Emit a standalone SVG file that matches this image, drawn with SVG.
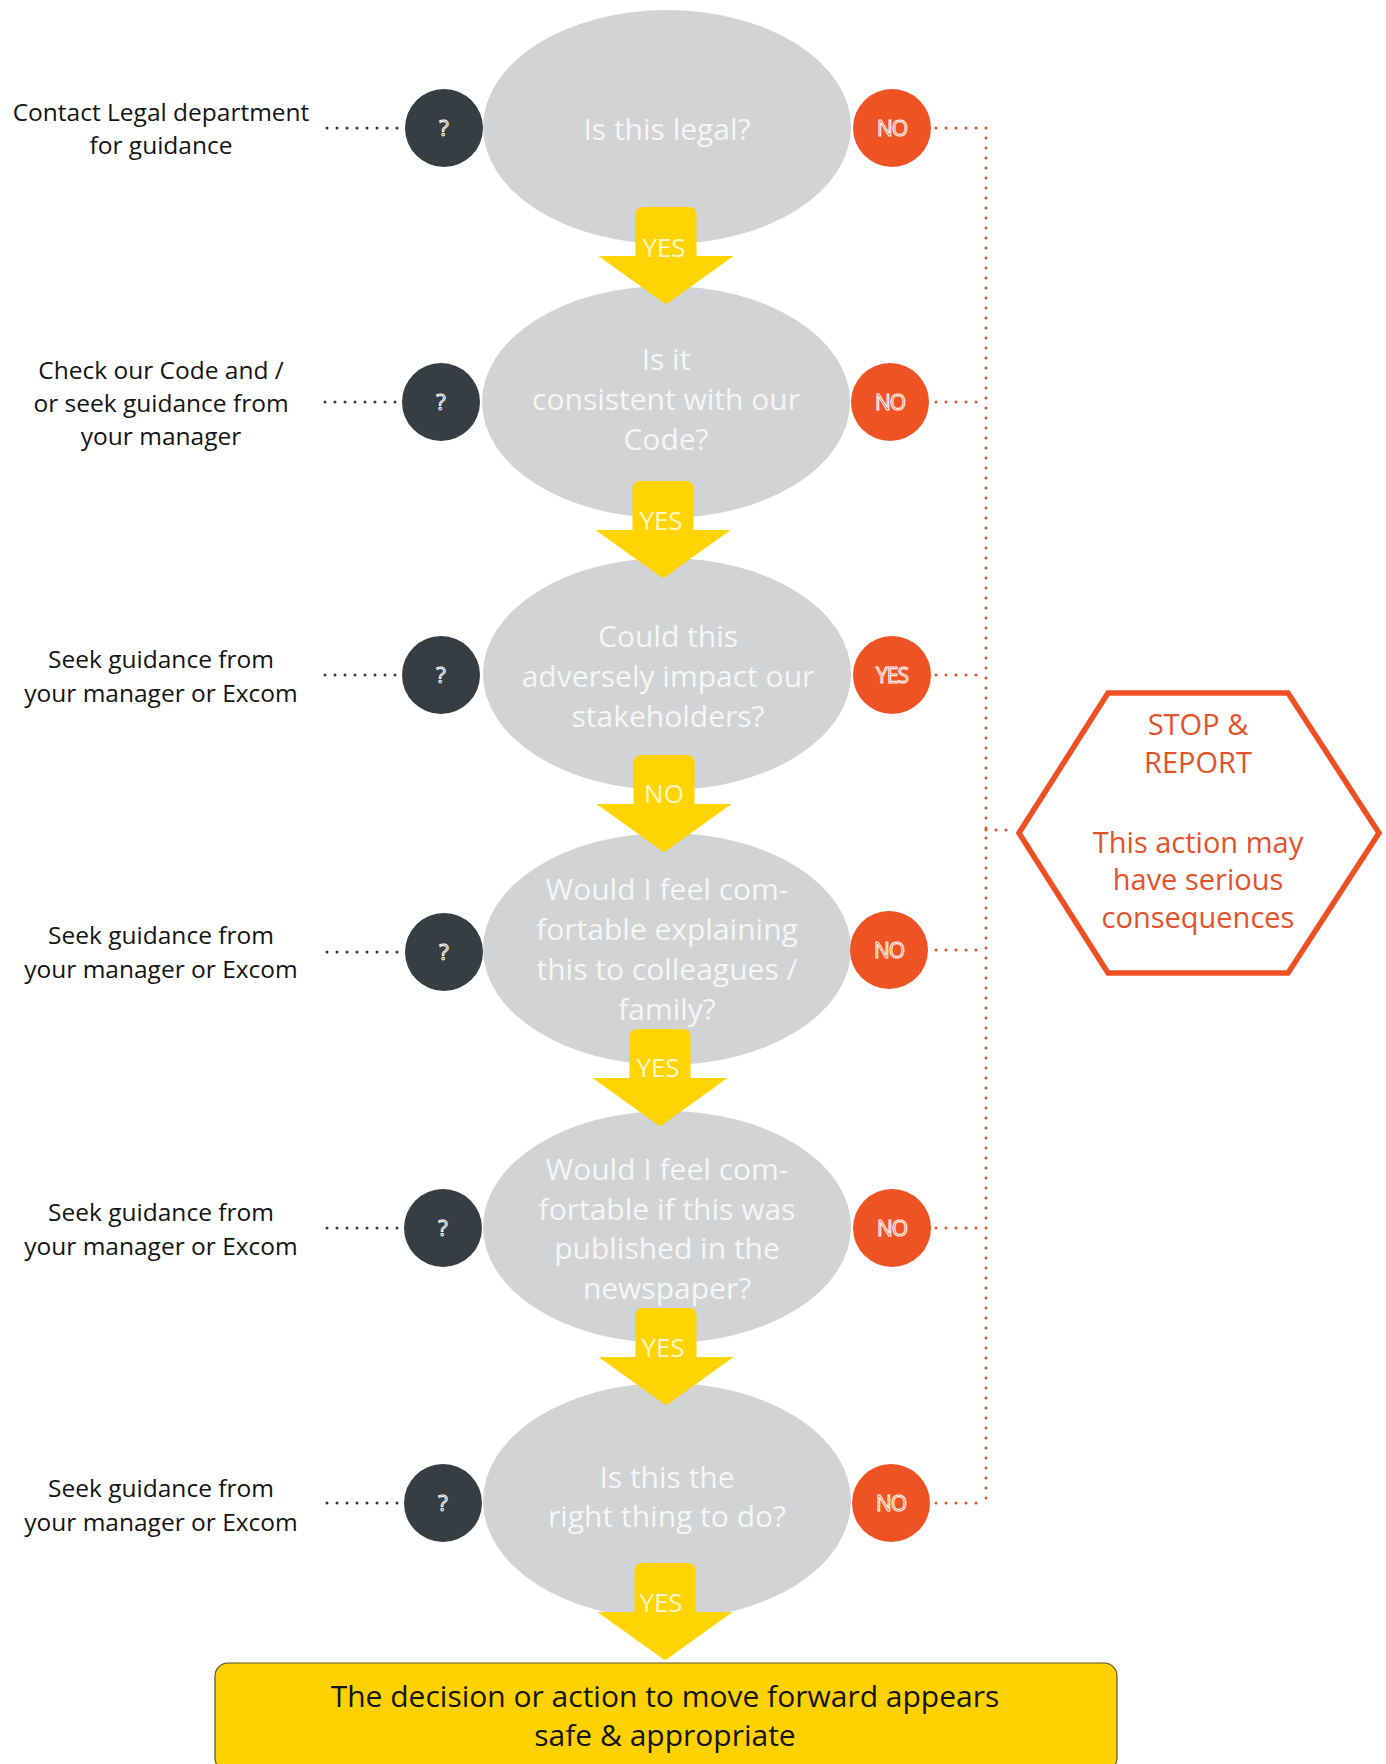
<svg xmlns="http://www.w3.org/2000/svg" width="1386" height="1764" viewBox="0 0 1386 1764">
<style>
  .q { fill: #d1d3d4; }
  .qt { font-family: "Open Sans", "Noto Sans", sans-serif; font-size: 30px; fill: #f6f6f6; text-anchor: middle; }
  .lbl { font-family: "Open Sans", "Noto Sans", sans-serif; font-size: 24.5px; fill: #141414; text-anchor: middle; }
  .dk { fill: #363d43; }
  .dkt { font-family: "Open Sans", "Noto Sans", sans-serif; font-size: 22px; fill: #363d43; stroke: #ffffff; stroke-width: 1; text-anchor: middle; }
  .or { fill: #ef5223; }
  .ort { font-family: "Open Sans", "Noto Sans", sans-serif; font-size: 21px; fill: #ef5223; stroke: #fff3ea; stroke-width: 1.1; text-anchor: middle; letter-spacing: -1px; }
  .arrow { fill: #ffd400; }
  .at { font-family: "Open Sans", "Noto Sans", sans-serif; font-size: 26px; fill: #fff6cc; text-anchor: middle; }
  .ldots { fill: none; stroke: #3a3a3a; stroke-width: 3; stroke-linecap: round; stroke-dasharray: 0 10; }
  .rdots { fill: none; stroke: #e0532c; stroke-width: 3; stroke-linecap: round; stroke-dasharray: 0 10; }
  .hex { fill: #ffffff; stroke: #ee5022; stroke-width: 5.5; stroke-linejoin: miter; }
  .hext { font-family: "Open Sans", "Noto Sans", sans-serif; font-size: 29px; fill: #e4522b; text-anchor: middle; }
  .box { fill: #fdd200; stroke: #5c5230; stroke-width: 1.2; }
  .boxt { font-family: "Open Sans", "Noto Sans", sans-serif; font-size: 30px; fill: #151515; text-anchor: middle; }
</style>
<defs>
  <path id="arr" d="M-30.5,49 L-30.5,8 Q-30.5,0 -22.5,0 L22.5,0 Q30.5,0 30.5,8 L30.5,49 L67.5,49 L2,96 Q0,97.5 -2,96 L-67.5,49 Z"/>
</defs>
<rect width="1386" height="1764" fill="#ffffff"/>

<!-- Question nodes -->
<g id="q1">
  <ellipse class="q" cx="667" cy="127" rx="184" ry="117"/>
  <text class="qt" x="667" y="140">Is this legal?</text>
</g>
<g id="q2">
  <ellipse class="q" cx="666" cy="402" rx="184" ry="116"/>
  <text class="qt" x="666" y="370">Is it</text>
  <text class="qt" x="666" y="410">consistent with our</text>
  <text class="qt" x="666" y="450">Code?</text>
</g>
<g id="q3">
  <ellipse class="q" cx="667" cy="674" rx="184" ry="116"/>
  <text class="qt" x="668" y="647">Could this</text>
  <text class="qt" x="668" y="687">adversely impact our</text>
  <text class="qt" x="668" y="727">stakeholders?</text>
</g>
<g id="q4">
  <ellipse class="q" cx="667" cy="949" rx="184" ry="116"/>
  <text class="qt" x="667" y="900">Would I feel com-</text>
  <text class="qt" x="667" y="940">fortable explaining</text>
  <text class="qt" x="667" y="980">this to colleagues /</text>
  <text class="qt" x="667" y="1020">family?</text>
</g>
<g id="q5">
  <ellipse class="q" cx="667" cy="1227" rx="184" ry="116"/>
  <text class="qt" x="667" y="1180">Would I feel com-</text>
  <text class="qt" x="667" y="1220">fortable if this was</text>
  <text class="qt" x="667" y="1259">published in the</text>
  <text class="qt" x="667" y="1299">newspaper?</text>
</g>
<g id="q6">
  <ellipse class="q" cx="667" cy="1501" rx="184" ry="118"/>
  <text class="qt" x="667" y="1488">Is this the</text>
  <text class="qt" x="667" y="1527">right thing to do?</text>
</g>

<!-- "?" markers -->
<g id="ask1"><circle class="dk" cx="444" cy="128" r="39"/><text class="dkt" x="444" y="136">?</text></g>
<g id="ask2"><circle class="dk" cx="441" cy="402" r="39"/><text class="dkt" x="441" y="410">?</text></g>
<g id="ask3"><circle class="dk" cx="441" cy="675" r="39"/><text class="dkt" x="441" y="683">?</text></g>
<g id="ask4"><circle class="dk" cx="444" cy="952" r="39"/><text class="dkt" x="444" y="960">?</text></g>
<g id="ask5"><circle class="dk" cx="443" cy="1228" r="39"/><text class="dkt" x="443" y="1236">?</text></g>
<g id="ask6"><circle class="dk" cx="443" cy="1503" r="39"/><text class="dkt" x="443" y="1511">?</text></g>

<!-- Negative answer markers -->
<g id="neg1"><circle class="or" cx="892" cy="128" r="39"/><text class="ort" x="892" y="136">NO</text></g>
<g id="neg2"><circle class="or" cx="890" cy="402" r="39"/><text class="ort" x="890" y="410">NO</text></g>
<g id="neg3"><circle class="or" cx="892" cy="675" r="39"/><text class="ort" x="892" y="683">YES</text></g>
<g id="neg4"><circle class="or" cx="889" cy="950" r="39"/><text class="ort" x="889" y="958">NO</text></g>
<g id="neg5"><circle class="or" cx="892" cy="1228" r="39"/><text class="ort" x="892" y="1236">NO</text></g>
<g id="neg6"><circle class="or" cx="891" cy="1503" r="39"/><text class="ort" x="891" y="1511">NO</text></g>

<!-- Left guidance labels -->
<g id="g1">
  <text class="lbl" x="161" y="121">Contact Legal department</text>
  <text class="lbl" x="161" y="154">for guidance</text>
</g>
<g id="g2">
  <text class="lbl" x="161" y="379">Check our Code and /</text>
  <text class="lbl" x="161" y="412">or seek guidance from</text>
  <text class="lbl" x="161" y="445">your manager</text>
</g>
<g id="g3">
  <text class="lbl" x="161" y="668">Seek guidance from</text>
  <text class="lbl" x="161" y="702">your manager or Excom</text>
</g>
<g id="g4">
  <text class="lbl" x="161" y="944">Seek guidance from</text>
  <text class="lbl" x="161" y="978">your manager or Excom</text>
</g>
<g id="g5">
  <text class="lbl" x="161" y="1221">Seek guidance from</text>
  <text class="lbl" x="161" y="1255">your manager or Excom</text>
</g>
<g id="g6">
  <text class="lbl" x="161" y="1497">Seek guidance from</text>
  <text class="lbl" x="161" y="1531">your manager or Excom</text>
</g>

<!-- Stop & report -->
<g id="stop">
  <polygon class="hex" points="1108,693 1288,693 1379,833 1288,973 1108,973 1019,833"/>
  <text class="hext" x="1198" y="735">STOP &amp;</text>
  <text class="hext" x="1198" y="773">REPORT</text>
  <text class="hext" x="1198" y="853">This action may</text>
  <text class="hext" x="1198" y="890">have serious</text>
  <text class="hext" x="1198" y="928">consequences</text>
</g>

<!-- Final outcome -->
<g id="outcome">
  <rect class="box" x="215" y="1663" width="902" height="108" rx="13" ry="13"/>
  <text class="boxt" x="665" y="1707">The decision or action to move forward appears</text>
  <text class="boxt" x="665" y="1746">safe &amp; appropriate</text>
</g>

<!-- Connectors -->
<g id="connectors">
  <path class="ldots" d="M327,128 H402"/>
  <path class="ldots" d="M325,402 H399"/>
  <path class="ldots" d="M325,675 H399"/>
  <path class="ldots" d="M327,952 H402"/>
  <path class="ldots" d="M327,1228 H402"/>
  <path class="ldots" d="M327,1503 H402"/>

  <path class="rdots" d="M936,128 H986 V1503"/>
  <path class="rdots" d="M936,402 H986"/>
  <path class="rdots" d="M936,675 H986"/>
  <path class="rdots" d="M936,950 H986"/>
  <path class="rdots" d="M936,1228 H986"/>
  <path class="rdots" d="M936,1503 H986"/>
  <path class="rdots" d="M986,830 H1016"/>

  <g id="a1"><use href="#arr" class="arrow" transform="translate(666,207)"/><text class="at" x="664" y="257">YES</text></g>
  <g id="a2"><use href="#arr" class="arrow" transform="translate(663,481)"/><text class="at" x="661" y="530">YES</text></g>
  <g id="a3"><use href="#arr" class="arrow" transform="translate(664,755)"/><text class="at" x="664" y="803">NO</text></g>
  <g id="a4"><use href="#arr" class="arrow" transform="translate(660,1029)"/><text class="at" x="658" y="1077">YES</text></g>
  <g id="a5"><use href="#arr" class="arrow" transform="translate(666,1308)"/><text class="at" x="663" y="1357">YES</text></g>
  <g id="a6"><use href="#arr" class="arrow" transform="translate(665,1563)"/><text class="at" x="661" y="1612">YES</text></g>
</g>
</svg>
